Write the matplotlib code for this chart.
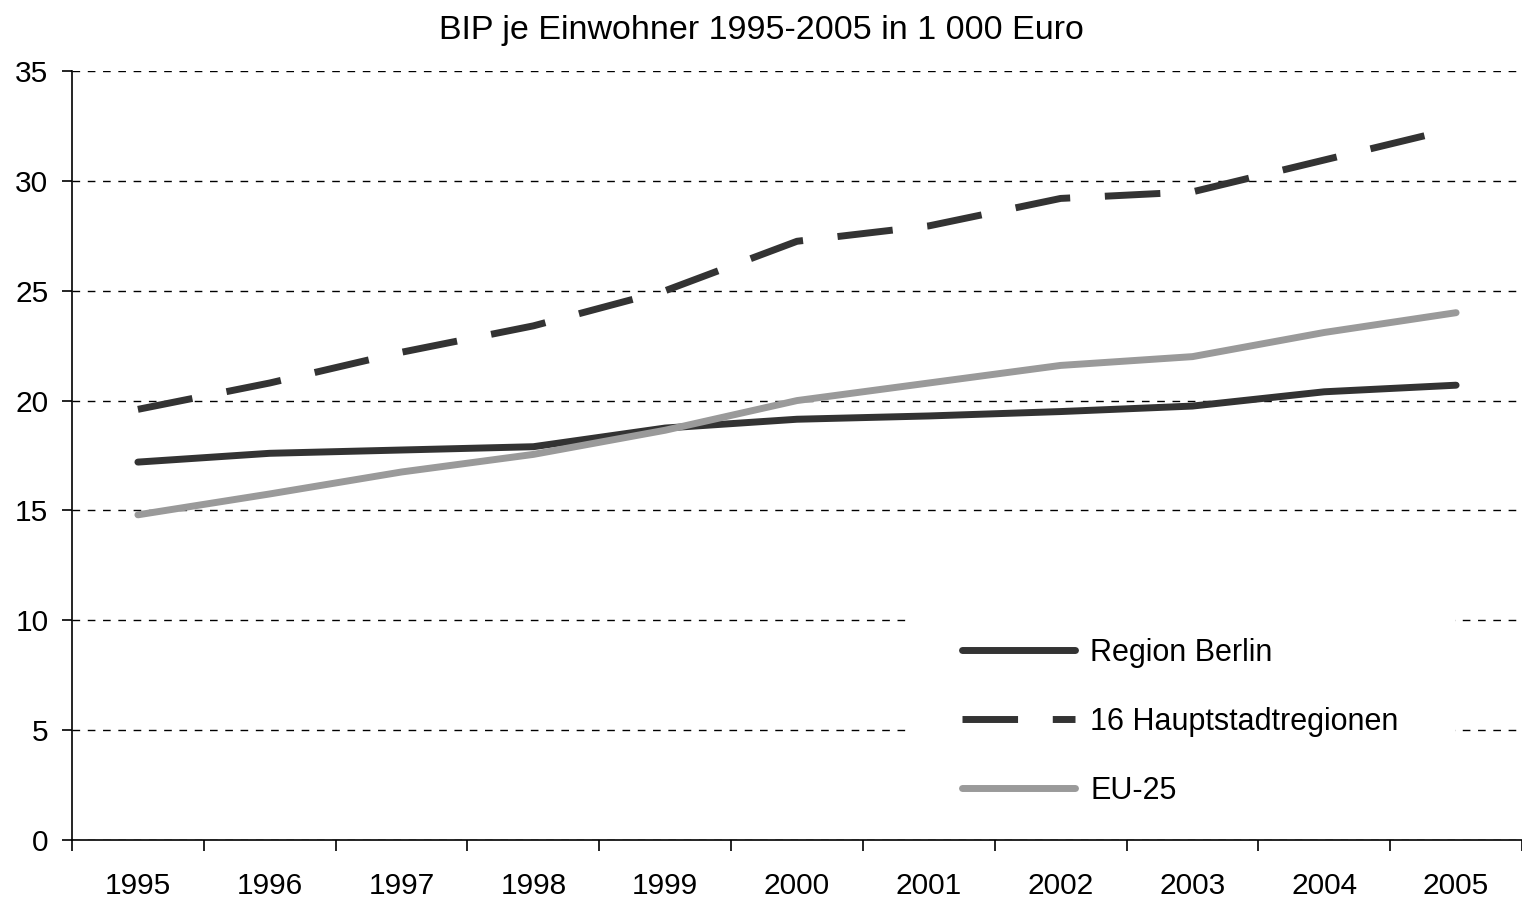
import matplotlib
matplotlib.use("Agg")
from matplotlib import pyplot as plt
from matplotlib.patches import Rectangle

years = ["1995", "1996", "1997", "1998", "1999", "2000",
         "2001", "2002", "2003", "2004", "2005"]

berlin = [17.2, 17.6, 17.75, 17.9, 18.75, 19.15, 19.3, 19.5, 19.75, 20.4, 20.7]
hauptstadt = [19.6, 20.8, 22.2, 23.4, 25.0, 27.25, 27.95, 29.2, 29.5, 30.95, 32.4]
eu25 = [14.8, 15.75, 16.75, 17.55, 18.65, 20.0, 20.8, 21.6, 22.0, 23.1, 24.0]

labels = ["Region Berlin", "16 Hauptstadtregionen", "EU-25"]
title = "BIP je Einwohner 1995-2005 in 1 000 Euro"

plt.rcParams["font.family"] = ["Liberation Sans", "DejaVu Sans"]
plt.rcParams["font.size"] = 21.5

fig = plt.figure(figsize=(15.22, 9.0), dpi=100)
ax = fig.add_axes([72 / 1522, 60 / 900, 1450 / 1522, 769 / 900])

xs = list(range(len(years)))
dark = "#333333"
grey = "#9a9a9a"

ax.plot(xs, berlin, color=dark, lw=5, solid_capstyle="round", zorder=3, label=labels[0])
ax.plot(xs, hauptstadt, color=dark, lw=5, dashes=(8, 5), dash_capstyle="butt",
        zorder=3, label=labels[1])
ax.plot(xs, eu25, color=grey, lw=5, solid_capstyle="round", zorder=3, label=labels[2])

ax.set_xlim(-0.5, 10.47)
ax.set_ylim(0, 35)
ax.set_yticks(range(0, 36, 5))
ax.set_xticks(xs)
ax.set_xticklabels(years)
ax.set_xticks([i + 0.5 for i in range(-1, 11)], minor=True)

ax.tick_params(axis="x", which="major", length=0, pad=23)
ax.tick_params(axis="x", which="minor", length=8, width=1.2, direction="out")
ax.tick_params(axis="y", length=7, width=1.2, pad=10)

ax.set_axisbelow(True)
ax.yaxis.grid(True, color="black", lw=1.0, linestyle=(0, (5.5, 5.5)))
ax.xaxis.grid(False)

for s in ["top", "right"]:
    ax.spines[s].set_visible(False)
for s in ["left", "bottom"]:
    ax.spines[s].set_linewidth(1.2)

# white area behind legend
ax.add_patch(Rectangle((0.578, 0.02), 0.376, 0.29, transform=ax.transAxes,
                       facecolor="white", edgecolor="none", zorder=1))

leg = fig.legend(loc="center left", bbox_to_anchor=(962 / 1522, 1 - 722 / 900),
                 frameon=False, borderpad=0, borderaxespad=0, handlelength=3.7,
                 handletextpad=0.5, labelspacing=1.27, fontsize=22)

fig.text(0.5, 1 - 30 / 900, title, ha="center", va="center", fontsize=24.5)

fig.savefig("out.png", dpi=100)
